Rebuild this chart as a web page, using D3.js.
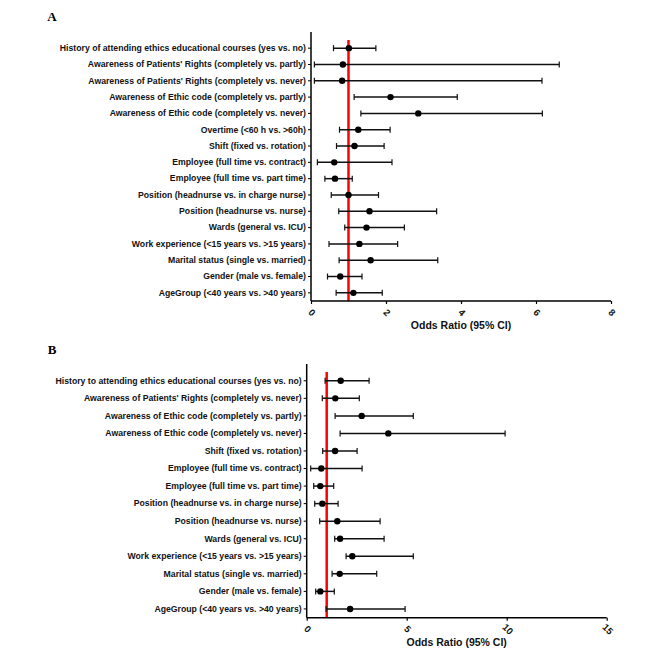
<!DOCTYPE html>
<html>
<head>
<meta charset="utf-8">
<script src="https://cdn.jsdelivr.net/npm/d3@7"></script>
<style>
  body { margin: 0; background: #fff; }
  text { font-family: "Liberation Sans", Arial, sans-serif; }
</style>
</head>
<body>
<div id="chart"></div>
<script>
const width = 669;
const height = 662;

// Panel A
const labelsA = [
  'History of attending ethics educational courses (yes vs. no)',
  "Awareness of Patients' Rights (completely vs. partly)",
  "Awareness of Patients' Rights (completely vs. never)",
  'Awareness of Ethic code (completely vs. partly)',
  'Awareness of Ethic code (completely vs. never)',
  'Overtime (<60 h vs. >60h)',
  'Shift (fixed vs. rotation)',
  'Employee (full time vs. contract)',
  'Employee (full time vs. part time)',
  'Position (headnurse vs. in charge nurse)',
  'Position (headnurse vs. nurse)',
  'Wards (general vs. ICU)',
  'Work experience (<15 years vs. >15 years)',
  'Marital status (single vs. married)',
  'Gender (male vs. female)',
  'AgeGroup (<40 years vs. >40 years)'
];
const orA = [1.01, 0.85, 0.83, 2.12, 2.86, 1.26, 1.16, 0.62, 0.64, 1.00, 1.56, 1.48, 1.29, 1.59, 0.78, 1.13];
const lowA = [0.60, 0.09, 0.09, 1.15, 1.33, 0.76, 0.68, 0.17, 0.37, 0.54, 0.74, 0.90, 0.48, 0.75, 0.44, 0.67];
const highA = [1.73, 6.62, 6.16, 3.90, 6.17, 2.11, 1.95, 2.16, 1.10, 1.80, 3.35, 2.49, 2.31, 3.38, 1.36, 1.90];
const ticksA = [0, 2, 4, 6, 8];

// Panel B
const labelsB = [
  'History to attending ethics educational courses (yes vs. no)',
  "Awareness of Patients' Rights (completely vs. never)",
  'Awareness of Ethic code (completely vs. partly)',
  'Awareness of Ethic code (completely vs. never)',
  'Shift (fixed vs. rotation)',
  'Employee (full time vs. contract)',
  'Employee (full time vs. part time)',
  'Position (headnurse vs. in charge nurse)',
  'Position (headnurse vs. nurse)',
  'Wards (general vs. ICU)',
  'Work experience (<15 years vs. >15 years)',
  'Marital status (single vs. married)',
  'Gender (male vs. female)',
  'AgeGroup (<40 years vs. >40 years)'
];
const orB = [1.70, 1.43, 2.75, 4.08, 1.42, 0.73, 0.68, 0.78, 1.53, 1.67, 2.28, 1.65, 0.68, 2.17];
const lowB = [0.92, 0.78, 1.42, 1.67, 0.80, 0.20, 0.35, 0.40, 0.65, 1.40, 1.97, 1.27, 0.45, 0.97];
const highB = [3.12, 2.63, 5.33, 9.92, 2.52, 2.77, 1.35, 1.57, 3.67, 3.87, 5.33, 3.50, 1.38, 4.92];
const ticksB = [0, 5, 10, 15];

const svg = d3.select('#chart')
  .append('svg')
  .attr('width', width)
  .attr('height', height);

function panel(cfg) {
  const x = d3.scaleLinear().domain(cfg.domain).range([cfg.left, cfg.right]);
  const y = d3.scaleBand().domain(cfg.labels).range([cfg.top, cfg.bottom]);
  const g = svg.append('g');

  const rows = cfg.labels.map((l, i) => ({ label: l, or: cfg.or[i], lo: cfg.lo[i], hi: cfg.hi[i] }));
  const cy = d => y(d.label) + y.bandwidth() / 2;

  // panel letter
  g.append('text')
    .attr('x', 52)
    .attr('y', cfg.letterY)
    .attr('text-anchor', 'middle')
    .style('font-family', '"Liberation Serif", "Times New Roman", serif')
    .style('font-weight', 'bold')
    .style('font-size', '13px')
    .text(cfg.letter);

  // reference line at OR = 1
  g.append('line')
    .attr('x1', x(1)).attr('x2', x(1))
    .attr('y1', cfg.top).attr('y2', cfg.bottom)
    .attr('stroke', '#ff0000')
    .attr('stroke-width', 2.5);

  // CI bars
  g.selectAll('.ci')
    .data(rows)
    .enter()
    .append('line')
    .attr('x1', d => x(d.lo))
    .attr('x2', d => x(d.hi))
    .attr('y1', cy)
    .attr('y2', cy)
    .attr('stroke', '#111')
    .attr('stroke-width', 1.5);

  ['lo', 'hi'].forEach(k => {
    g.selectAll('.cap-' + k)
      .data(rows)
      .enter()
      .append('line')
      .attr('x1', d => x(d[k]))
      .attr('x2', d => x(d[k]))
      .attr('y1', d => cy(d) - 3)
      .attr('y2', d => cy(d) + 3)
      .attr('stroke', '#111')
      .attr('stroke-width', 1.2);
  });

  g.selectAll('.pt')
    .data(rows)
    .enter()
    .append('circle')
    .attr('cx', d => x(d.or))
    .attr('cy', cy)
    .attr('r', 3.2)
    .attr('fill', '#000');

  // y axis
  const ya = g.append('g')
    .attr('transform', `translate(${cfg.left},0)`)
    .call(d3.axisLeft(y).tickSize(3).tickPadding(2));
  ya.select('.domain').attr('stroke', '#000').attr('stroke-width', 1.5)
    .attr('d', `M0,${cfg.top - 8}V${cfg.bottom}`);
  ya.selectAll('.tick line').attr('stroke', '#000').attr('stroke-width', 1);
  ya.selectAll('.tick text')
    .attr('fill', '#111')
    .style('font-size', '8.7px')
    .style('font-weight', 'bold')
    .style('font-family', '"Liberation Sans", Arial, sans-serif');

  // x axis
  const xa = g.append('g')
    .attr('transform', `translate(0,${cfg.bottom})`)
    .call(d3.axisBottom(x).tickValues(cfg.ticks).tickSize(3).tickFormat(d3.format('d')));
  xa.select('.domain').attr('stroke', '#000').attr('stroke-width', 1.5)
    .attr('d', `M${cfg.left},0H${cfg.right}`);
  xa.selectAll('.tick line').attr('stroke', '#000').attr('stroke-width', 1.2);
  xa.selectAll('.tick text')
    .attr('y', 0)
    .attr('dy', 0)
    .attr('transform', 'translate(0,12) rotate(45)')
    .attr('text-anchor', 'middle')
    .attr('dominant-baseline', 'middle')
    .attr('fill', '#111')
    .style('font-size', '9.5px')
    .style('font-weight', 'bold')
    .style('font-family', '"Liberation Sans", Arial, sans-serif');

  g.append('text')
    .attr('x', (cfg.left + cfg.right) / 2)
    .attr('y', cfg.bottom + 28)
    .attr('text-anchor', 'middle')
    .style('font-size', '10.5px')
    .style('font-weight', 'bold')
    .attr('fill', '#111')
    .text('Odds Ratio (95% CI)');
}

panel({
  letter: 'A', letterY: 21,
  labels: labelsA, or: orA, lo: lowA, hi: highA, ticks: ticksA,
  domain: [0, 8], left: 311, right: 611, top: 40, bottom: 301
});

panel({
  letter: 'B', letterY: 354,
  labels: labelsB, or: orB, lo: lowB, hi: highB, ticks: ticksB,
  domain: [0, 15], left: 306.7, right: 606.7, top: 372, bottom: 617.7
});
</script>
</body>
</html>
